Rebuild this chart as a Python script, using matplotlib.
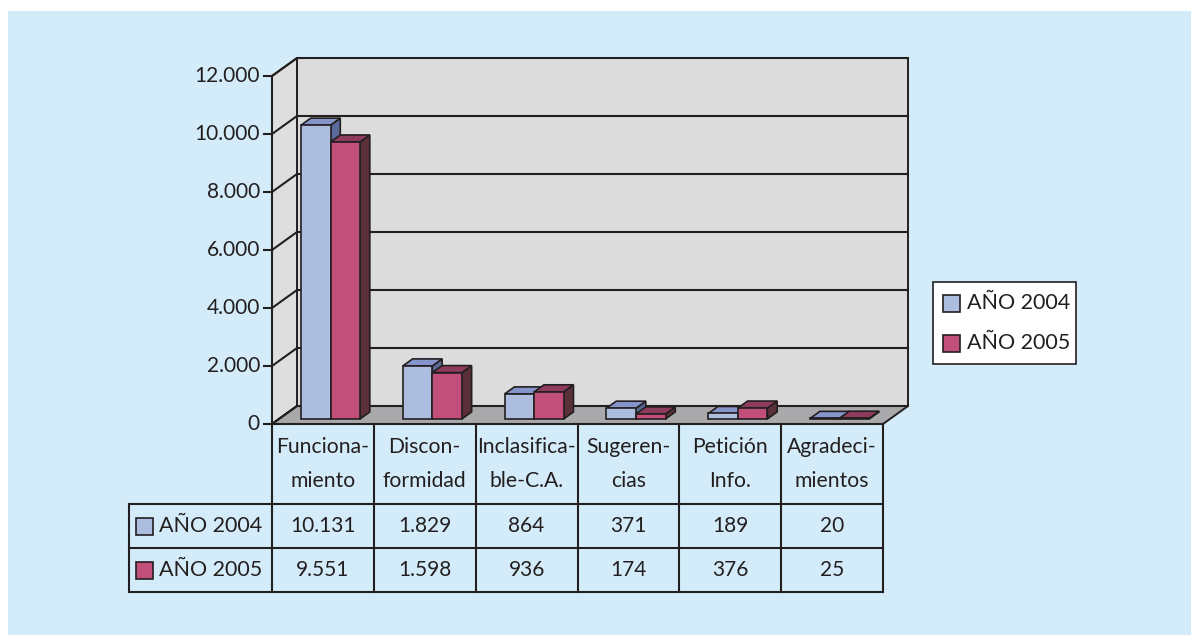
import numpy as np
import matplotlib
matplotlib.use("Agg")
import matplotlib.pyplot as plt
from matplotlib.patches import Polygon, Rectangle
from matplotlib.transforms import IdentityTransform

categories = ["Funciona-\nmiento", "Discon-\nformidad", "Inclasifica-\nble-C.A.",
              "Sugeren-\ncias", "Petición\nInfo.", "Agradeci-\nmientos"]
series = ["AÑO 2004", "AÑO 2005"]
v2004 = [10131, 1829, 864, 371, 189, 20]
v2005 = [9551, 1598, 936, 174, 376, 25]
yticks = [0, 2000, 4000, 6000, 8000, 10000, 12000]

front_col = ["#adbde0", "#c24e7a"]
top_col = ["#8595cc", "#8f3b5e"]
side_col = ["#5b6a9a", "#5b3038"]
ink = "#231f20"
blue_bg = "#d4ecfa"

plt.rcParams['font.family'] = ['Lato', 'DejaVu Sans']

W, H = 1191, 635
fig = plt.figure(figsize=(W / 100, H / 100), dpi=100)
fig.patch.set_facecolor("white")
fig.patches.append(Rectangle((8 / W, 0), 1, 1 - 11 / H, transform=fig.transFigure,
                             facecolor=blue_bg, edgecolor="none", zorder=-5))

# front plane of the 3d box, in pixels from the top-left
x_left, x_right, y_zero, y_top = 272, 883, 424, 76
ax = fig.add_axes([x_left / W, 1 - y_zero / H, (x_right - x_left) / W, (y_zero - y_top) / H])
ax.set_xlim(0, len(categories))
ax.set_ylim(0, 12000)
ax.axis("off")

DX, DY = 25, 18  # depth of the box in pixels
ID = IdentityTransform()


def pt(x, y, d=0.0):
    px, py = ax.transData.transform((x, y))
    return (px + d * DX, py + d * DY)


def poly(points, col, width=1.4, zo=1):
    ax.add_patch(Polygon(points, closed=True, transform=ID, facecolor=col,
                         edgecolor=ink, lw=width, zorder=zo, clip_on=False))


def line(xs, ys, zo=3):
    ax.plot(xs, ys, color=ink, lw=1.5, transform=ID, clip_on=False, zorder=zo,
            solid_capstyle="projecting")


n = len(categories)

# walls and floor
poly([pt(0, 0, 1), pt(n, 0, 1), pt(n, 12000, 1), pt(0, 12000, 1)], "#dcdcdc")
poly([pt(0, 0, 0), pt(0, 0, 1), pt(0, 12000, 1), pt(0, 12000, 0)], "#dedede")
poly([pt(0, 0, 0), pt(n, 0, 0), pt(n, 0, 1), pt(0, 0, 1)], "#a9a9ab", zo=2)

for v in yticks:
    a, b, c = pt(0, v, 0), pt(0, v, 1), pt(n, v, 1)
    line([a[0], b[0], c[0]], [a[1], b[1], c[1]])
    line([a[0] - 8, a[0]], [a[1], a[1]])
    ax.text(a[0] - 12, a[1], f"{v:,}".replace(",", "."), transform=ID, ha="right", va="center",
            fontsize=15, color=ink)

a, b = pt(0, 0, 0), pt(0, 12000, 0)
line([a[0], b[0]], [a[1], b[1]])

# bars
bw, off, f, bk = 0.29, 0.216, 0.28, 0.67
z = 4
for i in range(n):
    for s, vals in enumerate([v2004, v2005]):
        v = vals[i]
        x0 = i + off + s * bw
        x1 = x0 + bw
        side = [pt(x1, 0, f), pt(x1, 0, bk), pt(x1, v, bk), pt(x1, v, f)]
        top = [pt(x0, v, f), pt(x1, v, f), pt(x1, v, bk), pt(x0, v, bk)]
        front = [pt(x0, 0, f), pt(x1, 0, f), pt(x1, v, f), pt(x0, v, f)]
        for pts, col in [(side, side_col[s]), (top, top_col[s]), (front, front_col[s])]:
            poly(pts, col, width=1.2, zo=z)
        z += 1

# data table
rows_y = [424, 504, 548, 592]
tab_left = 129
cols_x = [pt(i, 0)[0] for i in range(n + 1)]
for yy in rows_y:
    x_start = cols_x[0] if yy == rows_y[0] else tab_left
    line([x_start, cols_x[-1]], [H - yy, H - yy], zo=30)
for xx in cols_x:
    line([xx, xx], [H - rows_y[0], H - rows_y[-1]], zo=30)
line([tab_left, tab_left], [H - rows_y[1], H - rows_y[-1]], zo=30)

for i, cat in enumerate(categories):
    cx = (cols_x[i] + cols_x[i + 1]) / 2
    ax.text(cx, H - (rows_y[0] + rows_y[1]) / 2, cat, transform=ID, ha="center", va="center",
            fontsize=15.2, color=ink, linespacing=1.85)
    for r, vals in enumerate([v2004, v2005]):
        ax.text(cx, H - (rows_y[r + 1] + rows_y[r + 2]) / 2, f"{vals[i]:,}".replace(",", "."),
                transform=ID, ha="center", va="center", fontsize=15, color=ink)

for r, name in enumerate(series):
    cy = (rows_y[r + 1] + rows_y[r + 2]) / 2
    ax.add_patch(Rectangle((136, H - cy - 8.5), 17, 17, transform=ID, facecolor=front_col[r],
                           edgecolor=ink, lw=1.2, clip_on=False, zorder=30))
    ax.text(159, H - cy, name, transform=ID, ha="left", va="center", fontsize=15.5, color=ink)

# legend
ax.add_patch(Rectangle((933, H - 364), 143, 82, transform=ID, facecolor="white",
                       edgecolor=ink, lw=1.2, clip_on=False, zorder=30))
for r, name in enumerate(series):
    cy = [303, 343][r]
    ax.add_patch(Rectangle((943, H - cy - 8.5), 17, 17, transform=ID, facecolor=front_col[r],
                           edgecolor=ink, lw=1.2, clip_on=False, zorder=31))
    ax.text(967, H - cy, name, transform=ID, ha="left", va="center", fontsize=15.5, color=ink,
            zorder=32)

fig.savefig("out.png", dpi=100, facecolor=fig.get_facecolor())
